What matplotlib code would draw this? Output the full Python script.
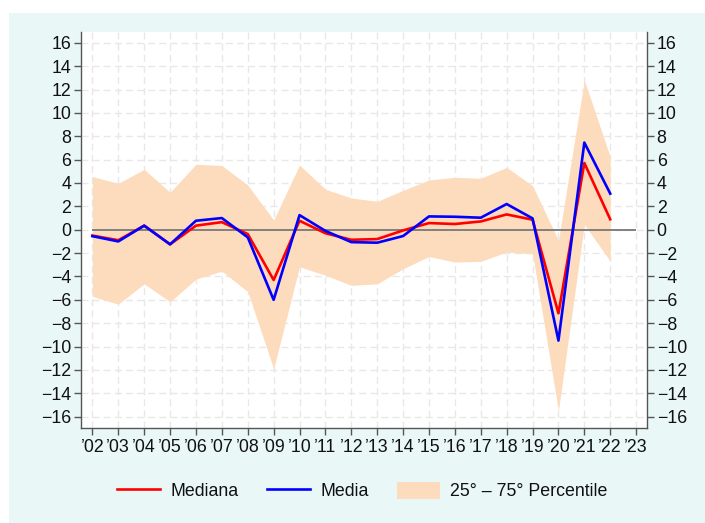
import matplotlib
matplotlib.use("Agg")
import matplotlib.pyplot as plt
import matplotlib.patches as mpatches
import numpy as np

plt.rcParams['font.family'] = ['Liberation Sans', 'DejaVu Sans']

# years 2002..2022, axis runs to 2023
years = list(range(2, 23))
tick_years = list(range(2, 24))
tick_labels = ["\u2019%02d" % y for y in tick_years]

mediana = [-0.5, -0.9, 0.35, -1.25, 0.35, 0.65, -0.37, -4.3, 0.77, -0.3, -0.86,
           -0.8, -0.06, 0.57, 0.49, 0.71, 1.31, 0.86, -7.15, 5.71, 0.89]
media = [-0.55, -1.0, 0.35, -1.25, 0.77, 1.0, -0.65, -6.0, 1.25, -0.1, -1.06,
         -1.11, -0.54, 1.14, 1.11, 1.03, 2.2, 0.97, -9.49, 7.46, 3.09]
p75 = [4.55, 3.97, 5.17, 3.2, 5.6, 5.5, 3.83, 0.83, 5.54, 3.46, 2.72,
       2.43, 3.37, 4.26, 4.49, 4.4, 5.34, 3.77, -0.91, 12.8, 6.23]
p25 = [-5.7, -6.37, -4.63, -6.17, -4.23, -3.54, -5.3, -11.9, -3.17, -3.9, -4.76,
       -4.63, -3.34, -2.29, -2.77, -2.71, -1.91, -2.06, -15.5, 0.45, -2.69]
yticks = list(range(-16, 17, 2))

W, H = 705, 523
FS = 12.8
fig = plt.figure(figsize=(W / 100, H / 100), dpi=100)
fig.patch.set_facecolor('white')
# light cyan panel behind everything
fig.patches.append(mpatches.Rectangle((9 / W, 0), 1 - 9 / W, 1 - 13 / H,
                                      transform=fig.transFigure, facecolor='#eaf7f7',
                                      edgecolor='none', zorder=-10))

ax = fig.add_axes([81 / W, 1 - 428 / H, (647 - 81) / W, (428 - 31.7) / H])
ax.set_facecolor('white')

band_col = '#fddcbd'
ax.fill_between(years, p25, p75, color=band_col, linewidth=0, zorder=2)
ax.hlines(0, tick_years[0], tick_years[-1], color='#808080', linewidth=1.4, zorder=3)
ax.plot(years, mediana, color='#ff0000', linewidth=1.9, zorder=4)
ax.plot(years, media, color='#0000ff', linewidth=1.9, zorder=5)

ax.set_xlim(1.56, 23.42)
ax.set_ylim(-16.97, 16.95)
ax.set_xticks(tick_years)
ax.set_xticklabels(tick_labels)
ax.set_yticks(yticks)
ax.set_yticklabels([str(v).replace('-', '\u2212') for v in yticks])

ax.grid(True, color='#e8e8e8', linestyle=(0, (5, 3)), linewidth=1.0, zorder=1)
ax.set_axisbelow(True)

for s in ['left', 'right', 'bottom']:
    ax.spines[s].set_color('#555555')
    ax.spines[s].set_linewidth(1.0)
ax.spines['top'].set_visible(False)

ax.tick_params(axis='both', direction='out', length=5, width=1, color='#555555',
               labelsize=FS, labelcolor='#111111')
ax.tick_params(axis='y', right=True, labelright=True, pad=2)
ax.tick_params(axis='x', pad=3)

handles = [
    plt.Line2D([], [], color='#ff0000', linewidth=1.9),
    plt.Line2D([], [], color='#0000ff', linewidth=1.9),
    mpatches.Patch(facecolor=band_col, edgecolor='none'),
]
labels = ['Mediana', 'Media', '25\u00b0 \u2013 75\u00b0 Percentile']
fig.legend(handles, labels, loc='center', bbox_to_anchor=(0.514, 1 - 491 / H),
           ncol=3, frameon=False, fontsize=FS, handlelength=2.4, handleheight=1.1,
           handletextpad=0.6, columnspacing=1.6, labelcolor='#111111')

fig.savefig('out.png', dpi=100, facecolor=fig.get_facecolor())
